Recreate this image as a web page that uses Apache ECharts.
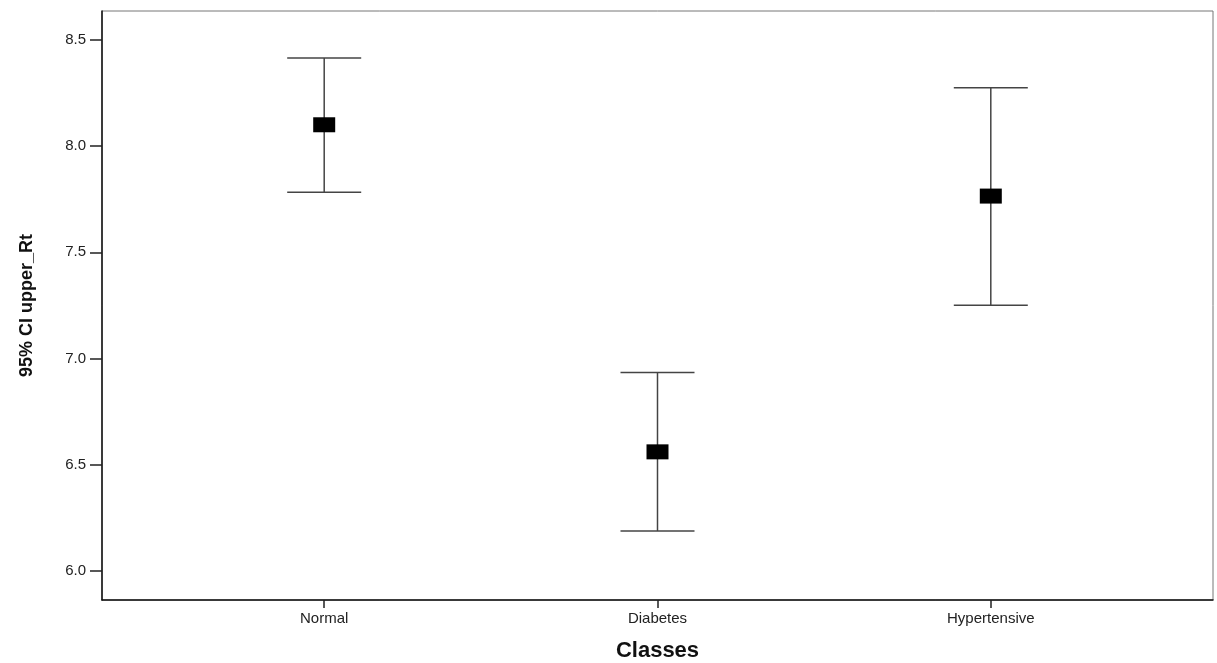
<!DOCTYPE html>
<html>
<head>
<meta charset="utf-8">
<script src="https://cdn.jsdelivr.net/npm/echarts@6/dist/echarts.min.js"></script>
<style>
  html, body { margin: 0; padding: 0; background: #fff; }
  #chart { width: 1217px; height: 663px; }
</style>
</head>
<body>
<div id="chart"></div>
<script>
// data
var categories = ['Normal', 'Diabetes', 'Hypertensive'];
var means = [8.101, 6.560, 7.765];
var lowerCI = [7.783, 6.187, 7.251];
var upperCI = [8.415, 6.934, 8.275];
var yTicks = [6.0, 6.5, 7.0, 7.5, 8.0, 8.5];

var font = 'Liberation Sans, Arial, sans-serif';

var barData = categories.map(function (c, i) { return [i, lowerCI[i], upperCI[i]]; });
var meanData = categories.map(function (c, i) { return [i, means[i]]; });
var catIdx = categories.map(function (c, i) { return i; });

var myChart = echarts.init(document.getElementById('chart'));

myChart.setOption({
	animation: false,
	grid: {
		left: 102, right: 4, top: 11, bottom: 63,
		outerBoundsMode: 'none',
		show: true, borderColor: '#777', borderWidth: 1
	},
	xAxis: {
		type: 'value',
		min: -2 / 3,
		max: 8 / 3,
		name: 'Classes',
		nameLocation: 'middle',
		nameGap: 40,
		nameTextStyle: { fontFamily: font, fontWeight: 'bold', fontSize: 22, color: '#111' },
		axisLine: { show: true, onZero: false, lineStyle: { color: '#111', width: 1.5 } },
		axisTick: { show: true, customValues: catIdx, length: 8, lineStyle: { color: '#222', width: 1.5 } },
		axisLabel: {
			customValues: catIdx,
			margin: 11,
			fontFamily: font,
			fontSize: 15,
			color: '#222',
			formatter: function (v) { return categories[Math.round(v)]; }
		},
		splitLine: { show: false }
	},
	yAxis: {
		type: 'value',
		min: 5.862,
		max: 8.637,
		name: '95% CI upper_Rt',
		nameLocation: 'middle',
		nameGap: 66,
		nameTextStyle: { fontFamily: font, fontWeight: 'bold', fontSize: 18, color: '#111' },
		axisLine: { show: true, onZero: false, lineStyle: { color: '#111', width: 1.5 } },
		axisTick: { show: true, customValues: yTicks, length: 12, lineStyle: { color: '#222', width: 1.5 } },
		axisLabel: {
			customValues: yTicks,
			margin: 16,
			fontFamily: font,
			fontSize: 15,
			color: '#222',
			formatter: function (v) { return v.toFixed(1); }
		},
		splitLine: { show: false }
	},
	series: [
		{
			// 95% CI bars
			type: 'custom',
			data: barData,
			encode: { x: 0, y: [1, 2] },
			renderItem: function (params, api) {
				var x = api.value(0);
				var top = api.coord([x, api.value(2)]);
				var bot = api.coord([x, api.value(1)]);
				var cap = 37;
				var style = { stroke: '#444', lineWidth: 1.5 };
				return {
					type: 'group',
					children: [
						{ type: 'line', shape: { x1: top[0], y1: top[1], x2: bot[0], y2: bot[1] }, style: style },
						{ type: 'line', shape: { x1: top[0] - cap, y1: top[1], x2: top[0] + cap, y2: top[1] }, style: style },
						{ type: 'line', shape: { x1: bot[0] - cap, y1: bot[1], x2: bot[0] + cap, y2: bot[1] }, style: style }
					]
				};
			},
			z: 2
		},
		{
			// means
			type: 'scatter',
			data: meanData,
			symbol: 'rect',
			symbolSize: [22, 15],
			itemStyle: { color: '#000', opacity: 1 },
			z: 3
		}
	]
});
</script>
</body>
</html>
